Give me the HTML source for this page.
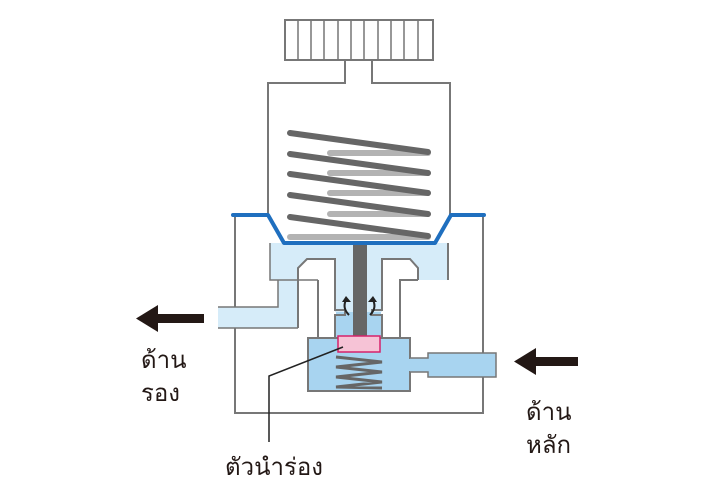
<!DOCTYPE html>
<html><head><meta charset="utf-8"><style>
html,body{margin:0;padding:0;background:#fff;width:720px;height:500px;overflow:hidden}
svg text{font-family:"Liberation Sans","Noto Sans CJK SC",sans-serif;font-size:24px;fill:#231815}
</style></head><body>
<svg width="720" height="500" viewBox="0 0 720 500" xmlns="http://www.w3.org/2000/svg">
<g stroke="#777" stroke-width="2" fill="none">
<rect x="285" y="20" width="148" height="40" fill="#fff"/>
<path d="M298 20V60M311 20V60M324 20V60M338 20V60M351 20V60M364 20V60M378 20V60M391 20V60M404 20V60M418 20V60" stroke-width="1.5"/>
<path d="M345 60V83H268V215M372 60V83H450V215"/>
<path d="M235 215V413H483V215"/>
</g>
<g stroke-linecap="round">
<g stroke="#b3b3b3" stroke-width="6">
<line x1="330" y1="153" x2="428" y2="153"/><line x1="330" y1="173" x2="428" y2="173"/>
<line x1="330" y1="193" x2="428" y2="193"/><line x1="330" y1="214" x2="428" y2="214"/>
<line x1="290" y1="237" x2="428" y2="237"/>
</g>
<g stroke="#666" stroke-width="6">
<line x1="290" y1="133" x2="428" y2="152"/><line x1="290" y1="154" x2="428" y2="173"/>
<line x1="290" y1="174" x2="428" y2="193"/><line x1="290" y1="195" x2="428" y2="214"/>
<line x1="290" y1="217" x2="428" y2="236"/>
</g>
</g>
<path d="M270 243H448V280H418V268L410 259H382V312H335V259H307L298 268V328H218V307H278V280H270Z" fill="#d6ecf9"/>
<path d="M298 328V280 M318 280V338 M400 338V280H418 M448 280V243" stroke="#777" stroke-width="2" fill="none"/>
<path d="M218 307H278V280H270V243 M218 328H298 M278 280H318" stroke="#777" stroke-width="1.5" fill="none"/>
<rect x="336" y="312" width="45" height="27" fill="#a8d4f0"/>
<path d="M298 280V268L307 259H335V310H345V315H335V338 M382 338V315H372V310H382V259H410L418 268V280" stroke="#777" stroke-width="2" fill="none"/>
<rect x="308" y="338" width="102" height="53" fill="#a8d4f0" stroke="#777" stroke-width="2"/>
<path d="M410 358H428V353H496V377H428V372H410" fill="#a8d4f0" stroke="#777" stroke-width="1.5"/>
<rect x="409" y="359" width="3" height="12" fill="#a8d4f0"/>
<rect x="353" y="243" width="14" height="95" fill="#666"/>
<path d="M336 357L382 362L336 367L382 372L336 377L382 382L336 387L382 388" stroke="#666" stroke-width="3" fill="none"/>
<rect x="338" y="336" width="42" height="16" fill="#f6c3d6" stroke="#d6226b" stroke-width="1.5"/>
<path d="M349 315Q342 308 346 300" stroke="#222" stroke-width="2" fill="none"/>
<path d="M342 302L346 296L351 302Z" fill="#222"/>
<path d="M370 315Q377 308 373 300" stroke="#222" stroke-width="2" fill="none"/>
<path d="M368 302L373 296L377 302Z" fill="#222"/>
<path d="M233 215H268L284 243H435L451 215H484" stroke="#1f6fbf" stroke-width="4" fill="none" stroke-linejoin="round" stroke-linecap="round"/>
<path d="M343 347L269 376V442" stroke="#222" stroke-width="1.5" fill="none"/>
<rect x="152" y="314" width="52" height="9" fill="#231815"/>
<path d="M136 318.5L158 305V332Z" fill="#231815"/>
<rect x="530" y="357" width="48" height="9" fill="#231815"/>
<path d="M514 361.5L536 348V375Z" fill="#231815"/>
<text x="141" y="368">ด้าน</text>
<text x="141" y="401">รอง</text>
<text x="526" y="420">ด้าน</text>
<text x="526" y="453">หลัก</text>
<text x="225" y="475">ตัวนำร่อง</text>
</svg>
</body></html>
